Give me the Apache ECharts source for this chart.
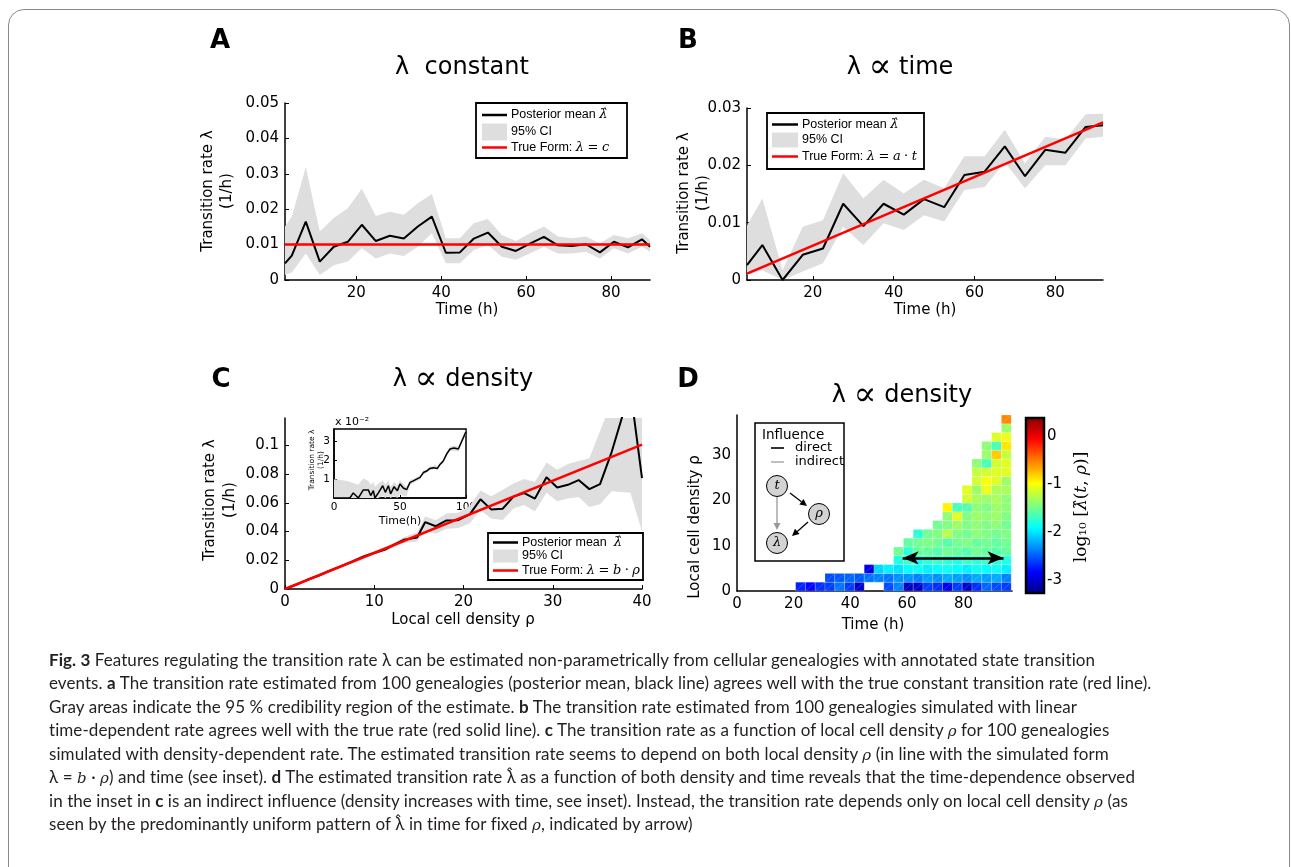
<!DOCTYPE html>
<html>
<head>
<meta charset="utf-8">
<script src="https://cdn.jsdelivr.net/npm/echarts@6/dist/echarts.min.js"></script>
<style>
html,body{margin:0;padding:0;background:#fff;}
#chart{position:absolute;left:0;top:0;width:1291px;height:867px;}
#frame{position:absolute;left:8px;top:9px;width:1280px;height:900px;border:1.5px solid #8a8a8a;border-radius:16px;pointer-events:none;}
#cap{position:absolute;left:49px;top:648px;font-family:Lato,'Open Sans',sans-serif;font-size:17px;letter-spacing:0.07px;color:#231f20;white-space:nowrap;}
#cap div{height:23.45px;line-height:23.45px;}
#cap i{font-family:'DejaVu Serif',serif;font-style:italic;font-size:15px;line-height:0;}
</style>
</head>
<body>
<div id="chart"></div>
<div id="frame"></div>
<div id="cap">
<div><b>Fig. 3</b> Features regulating the transition rate λ can be estimated non-parametrically from cellular genealogies with annotated state transition</div>
<div>events. <b>a</b> The transition rate estimated from 100 genealogies (posterior mean, black line) agrees well with the true constant transition rate (red line).</div>
<div>Gray areas indicate the 95 % credibility region of the estimate. <b>b</b> The transition rate estimated from 100 genealogies simulated with linear</div>
<div>time-dependent rate agrees well with the true rate (red solid line). <b>c</b> The transition rate as a function of local cell density <i>ρ</i> for 100 genealogies</div>
<div>simulated with density-dependent rate. The estimated transition rate seems to depend on both local density <i>ρ</i> (in line with the simulated form</div>
<div>λ = <i>b</i> · <i>ρ</i>) and time (see inset). <b>d</b> The estimated transition rate λ̂ as a function of both density and time reveals that the time-dependence observed</div>
<div>in the inset in <b>c</b> is an indirect influence (density increases with time, see inset). Instead, the transition rate depends only on local cell density <i>ρ</i> (as</div>
<div>seen by the predominantly uniform pattern of λ̂ in time for fixed <i>ρ</i>, indicated by arrow)</div>
</div>
<script>
const F = 'DejaVu Sans', S = 'DejaVu Serif', LS = 'Liberation Sans';

// A: lambda constant
const aTime  = [3.2,4.8,8.1,11.4,14.7,18.0,21.3,24.6,27.9,31.2,34.5,37.8,41.1,44.4,47.7,51.0,54.3,57.6,60.9,64.2,67.5,70.8,74.1,77.4,80.7,84.0,87.3,89.2];
const aMean  = [0.0047,0.0069,0.0165,0.0052,0.0094,0.0108,0.0156,0.011,0.0125,0.0117,0.0151,0.0179,0.0077,0.0078,0.0117,0.0134,0.0094,0.0082,0.0103,0.0122,0.0098,0.0096,0.0101,0.0078,0.0108,0.0092,0.0115,0.0094];
const aUpper = [0.0151,0.0179,0.0319,0.0137,0.0175,0.0203,0.0258,0.0181,0.0193,0.0184,0.0217,0.0243,0.0118,0.0118,0.016,0.0172,0.0127,0.011,0.0132,0.0151,0.0123,0.0118,0.0123,0.0104,0.0127,0.0118,0.0132,0.0113];
const aLower = [0.0014,0.0021,0.0075,0.0014,0.0042,0.0052,0.009,0.0061,0.0075,0.0068,0.0094,0.0132,0.0047,0.0047,0.0085,0.0099,0.0066,0.0057,0.0075,0.0094,0.0075,0.0075,0.008,0.0061,0.009,0.0075,0.0094,0.008];
const aTrueT = [3.2,89.2], aTrue = [0.01,0.01];

// B: lambda ~ time
const bTime  = [3.7,7.5,12.5,17.5,22.5,27.5,32.5,37.5,42.5,47.5,52.5,57.5,62.5,67.5,72.5,77.5,82.5,87.5,91.8];
const bMean  = [0.0026,0.0061,0,0.0044,0.0055,0.0133,0.0094,0.0133,0.0114,0.0141,0.0127,0.0183,0.0189,0.0233,0.0181,0.0227,0.0222,0.0267,0.027];
const bUpper = [0.0095,0.0142,0.0017,0.0093,0.0104,0.0186,0.0142,0.0175,0.0151,0.0175,0.016,0.0216,0.0216,0.0262,0.0203,0.025,0.0245,0.0289,0.029];
const bLower = [0.0009,0.0017,0,0.0015,0.0029,0.0093,0.0061,0.0099,0.0087,0.0113,0.0102,0.0157,0.0162,0.0206,0.016,0.02,0.02,0.0247,0.025];
const bTrueT = [3.7,91.8], bTrue = [0.0011,0.0275];

// C: lambda ~ density
const cRho   = [0,1.3,2.5,3.8,5.0,6.3,7.5,8.8,10.0,11.3,12.5,13.3,14.8,15.7,16.9,18.1,19.4,20.7,21.9,23.1,24.4,25.6,26.8,28.0,29.3,30.5,31.7,32.9,34.1,35.3,36.6,38.7,40.0];
const cMean  = [0,0.0031,0.0064,0.0094,0.0127,0.0159,0.0191,0.0226,0.0251,0.0277,0.0318,0.0342,0.0359,0.0465,0.0437,0.0477,0.0479,0.0519,0.0624,0.0554,0.0559,0.0643,0.0667,0.0629,0.0777,0.0707,0.0725,0.0758,0.0695,0.073,0.0953,0.139,0.0772];
const cUpper = [0,0.0036,0.007,0.0102,0.0135,0.0168,0.0201,0.0236,0.0263,0.029,0.0332,0.0362,0.0395,0.0505,0.0478,0.0525,0.053,0.058,0.0685,0.0645,0.069,0.0735,0.0765,0.0745,0.088,0.083,0.087,0.089,0.091,0.11,0.13,0.16,0.16];
const cLower = [0,0.0026,0.0058,0.0086,0.0118,0.015,0.018,0.0212,0.0238,0.0262,0.0298,0.032,0.033,0.0405,0.0385,0.042,0.0425,0.0455,0.055,0.049,0.048,0.056,0.0585,0.054,0.067,0.061,0.063,0.064,0.057,0.059,0.068,0.067,0.04];
const cTrueRho = [0,40], cTrue = [0,0.1005];

// C inset: rate vs time (units of 1e-2)
const inT     = [0,5,10,12,14.6,18.4,22.2,26,27.8,29.8,31,33.6,36.9,38.9,41.2,42.9,45.5,48,50,52.5,55,57.6,60.1,62.6,65.2,67.7,70.2,72.7,75.3,76.5,78.3,80.3,82.8,85.4,87.9,90.9,94.2,96.7,100];
const inMean  = [0,0,0,0,0.27,0,0.43,0.43,0.13,0.39,0,0.27,0.65,0.3,0.65,0.22,0.6,0.39,0.74,0.53,0.44,0.83,0.91,1.0,1.09,1.35,1.43,1.57,1.6,1.69,1.57,1.78,1.96,2.34,2.6,2.65,2.6,3.0,3.52];
const inUpper = [1.0,0.95,0.9,0.85,0.8,0.7,1.05,0.9,0.7,0.85,0.6,0.75,0.95,0.7,0.95,0.6,0.85,0.65,0.95,0.75,0.6,0.95,1.02,1.1,1.2,1.45,1.53,1.67,1.7,1.79,1.67,1.88,2.06,2.44,2.72,2.78,2.75,3.12,3.62];
const inLower = [0,0,0,0,0,0,0,0,0,0,0,0,0.1,0,0.1,0,0.1,0,0.2,0.1,0.1,0.7,0.8,0.9,0.98,1.25,1.33,1.47,1.5,1.59,1.47,1.68,1.86,2.24,2.48,2.52,2.45,2.88,3.4];

// D: log10 rate over (time, density) bins
const tBinStart = 20.7, tBinWidth = 3.46, rhoBinHeight = 1.94;
const heatRowStart = [0,3,7,10,10,11,12,14,15,15,17,17,18,18,18,19,19,20,21,21];
const heatRows = [
  [-2.7,-2.8,-2.65,-2.6,-2.4,-2.6,-3.0,null,null,-2.55,-2.35,-3.05,-3.0,-2.6,-2.65,-2.85,-2.6,-3.0,-2.65,-2.45,-2.55,-2.6],
  [-2.55,-2.5,-2.45,-2.5,-2.4,-2.35,-2.4,-2.3,-2.3,-2.35,-2.25,-2.3,-2.2,-2.25,-2.3,-2.2,-2.25,-2.2,-2.35],
  [-2.9,-2.05,-1.95,-2.0,-1.9,-1.85,-1.95,-1.9,-1.85,-1.9,-1.95,-1.85,-1.9,-1.85,-1.95],
  [-1.8,-1.7,-1.85,-1.75,-1.7,-1.75,-1.8,-1.7,-1.75,-1.7,-1.75,-1.8],
  [-1.5,-1.75,-1.55,-1.55,-1.6,-1.5,-1.55,-1.6,-1.5,-1.55,-1.6,-1.55],
  [-1.55,-1.5,-1.45,-1.5,-1.6,-1.5,-1.45,-1.55,-1.5,-1.55,-1.5],
  [-1.75,-1.5,-1.45,-1.25,-1.45,-1.5,-1.4,-1.45,-1.5,-1.45],
  [-1.5,-1.45,-1.35,-1.45,-1.4,-1.45,-1.4,-1.5],
  [-1.4,-1.1,-1.45,-1.35,-1.4,-1.35,-1.45],
  [-0.95,-1.65,-1.6,-1.4,-1.45,-1.35,-1.4],
  [-1.15,-1.3,-1.35,-1.3,-1.4],
  [-1.1,-1.35,-1.05,-1.3,-1.3],
  [-1.15,-1.0,-1.1,-1.35],
  [-1.2,-1.15,-1.1,-1.1],
  [-1.4,-1.65,-1.15,-1.1],
  [-1.35,-0.8,-1.2],
  [-1.4,-1.65,-0.9],
  [-1.1,-1.05],
  [-1.35],
  [-0.55]
];
const cbMin = -3.27, cbMax = 0.385, cbTicks = [-3,-2,-1,0];
const dArrowT = [58.5,94.1], dArrowRho = 7.3;

const jet = ['#000080','#0000ff','#0080ff','#00ffff','#80ff80','#ffff00','#ff8000','#ff0000','#800000'];
const GRAY = '#dedede';

const heatData = [];
heatRows.forEach((row, r) => row.forEach((v, k) => {
  if (v !== null) heatData.push([tBinStart + (heatRowStart[r] + k) * tBinWidth, r * rhoBinHeight, v]);
}));

function pts(xs, ys){ return xs.map((x,i)=>[x, ys[i]]); }
function band(g, xs, lo, hi){
  return {type:'custom', xAxisIndex:g, yAxisIndex:g, clip:true, silent:true, z:1,
    data: xs.map((x,i)=>[x, lo[i], hi[i]]),
    renderItem:(p, api)=>{
      if (p.dataIndex !== 0) return null;
      const up = xs.map((x,i)=>api.coord([x, hi[i]]));
      const dn = xs.map((x,i)=>api.coord([x, lo[i]])).reverse();
      return {type:'polygon', shape:{points: up.concat(dn)}, style:{fill:GRAY}};
    }};
}
function line(g, xs, ys, color, w, z){
  return {type:'line', xAxisIndex:g, yAxisIndex:g, data:pts(xs, ys), symbol:'none', silent:true, z,
    lineStyle:{color, width:w}};
}
function ax(g, min, max, ticks, fmt, o){
  return Object.assign({type:'value', gridIndex:g, min, max,
    axisLine:{onZero:false, lineStyle:{color:'#000', width:1.5}},
    axisTick:{inside:true, length:4, customValues:ticks, lineStyle:{color:'#000', width:1}},
    axisLabel:{customValues:ticks, formatter:fmt, color:'#000', fontFamily:F, fontSize:15, margin:6},
    splitLine:{show:false}}, o || {});
}
const f2 = v => v === 0 ? '0' : v.toFixed(2);
const fC = v => v === 0 ? '0' : (Math.abs(v - 0.1) < 1e-9 ? '0.1' : v.toFixed(2));
const fInt = v => String(Math.round(v));

const grid = [
  {left:285, top:103, width:365, height:177},
  {left:747, top:108, width:356, height:172},
  {left:285, top:418, width:357, height:171},
  {left:334, top:429, width:132, height:69, show:true, borderColor:'#000', borderWidth:1.5, backgroundColor:'#fff'},
  {left:737, top:415, width:275, height:176},
  {left:1026, top:418, width:18, height:175}
].map(g => Object.assign({outerBoundsMode:'none', containLabel:false}, g));

const smallLab = {color:'#000', fontFamily:F, fontSize:10.5, margin:4};
const xAxis = [
  ax(0, 3.2, 89.2, [20,40,60,80], fInt),
  ax(1, 3.7, 91.8, [20,40,60,80], fInt),
  ax(2, 0, 40, [0,10,20,30,40], fInt),
  ax(3, 0, 100, [0,50,100], fInt, {axisLabel:Object.assign({customValues:[0,50,100], formatter:fInt}, smallLab), axisTick:{inside:true, length:3, customValues:[0,50,100], lineStyle:{color:'#000'}}}),
  ax(4, 0, 97.1, [0,20,40,60,80], fInt, {axisTick:{show:false}}),
  {type:'value', gridIndex:5, min:0, max:1, show:false}
];
const yAxis = [
  ax(0, 0, 0.05, [0,0.01,0.02,0.03,0.04,0.05], f2),
  ax(1, 0, 0.03, [0,0.01,0.02,0.03], f2),
  ax(2, 0, 0.119, [0,0.02,0.04,0.06,0.08,0.1], fC),
  ax(3, 0, 3.66, [1,2,3], fInt, {axisLabel:Object.assign({customValues:[1,2,3], formatter:fInt}, smallLab), axisTick:{inside:true, length:3, customValues:[1,2,3], lineStyle:{color:'#000'}}}),
  ax(4, 0, 38.8, [0,10,20,30], fInt, {axisTick:{show:false}}),
  {type:'value', gridIndex:5, min:cbMin, max:cbMax, position:'right',
    axisLine:{show:false}, splitLine:{show:false},
    axisTick:{show:true, inside:false, length:4, customValues:cbTicks, lineStyle:{color:'#000', width:1.5}},
    axisLabel:{customValues:cbTicks, formatter:fInt, color:'#000', fontFamily:F, fontSize:15, margin:3}}
];

const series = [
  band(0, aTime, aLower, aUpper), line(0, aTime, aMean, '#000', 2, 3), line(0, aTrueT, aTrue, '#ff0000', 2.5, 4),
  band(1, bTime, bLower, bUpper), line(1, bTime, bMean, '#000', 2, 3), line(1, bTrueT, bTrue, '#ff0000', 2.5, 4),
  band(2, cRho, cLower, cUpper), line(2, cRho, cMean, '#000', 2, 3), line(2, cTrueRho, cTrue, '#ff0000', 2.5, 4),
  band(3, inT, inLower, inUpper), line(3, inT, inMean, '#000', 1.5, 3)
];
const heatIndex = series.length;
series.push({type:'custom', xAxisIndex:4, yAxisIndex:4, silent:true, z:2, data:heatData,
  renderItem:(p, api)=>{
    const t0 = api.value(0), r0 = api.value(1);
    const a = api.coord([t0, r0 + rhoBinHeight]), b = api.coord([t0 + tBinWidth, r0]);
    return {type:'group', children:[
      {type:'rect', shape:{x:a[0], y:a[1], width:b[0]-a[0], height:b[1]-a[1]},
        style:{fill:api.visual('color'), stroke:'rgba(255,255,255,0.35)', lineWidth:0.6}},
      {type:'line', shape:{x1:a[0], y1:b[1], x2:b[0], y2:a[1]}, style:{stroke:'rgba(255,255,255,0.3)', lineWidth:0.6}}
    ]};
  }});
series.push({type:'line', xAxisIndex:4, yAxisIndex:4, data:[[dArrowT[0], dArrowRho]], symbol:'none', silent:true, z:5,
  lineStyle:{width:0},
  markLine:{silent:true, symbol:['arrow','arrow'], symbolSize:[10,16], label:{show:false}, animation:false,
    lineStyle:{color:'#000', width:2.5, type:'solid'},
    itemStyle:{color:'#000'},
    data:[[{coord:[dArrowT[0], dArrowRho]}, {coord:[dArrowT[1], dArrowRho]}]]}});
series.push({type:'custom', xAxisIndex:5, yAxisIndex:5, silent:true, z:3, data:[[0]],
  renderItem:(p, api)=>{
    const a = api.coord([0, cbMax]), b = api.coord([1, cbMin]);
    return {type:'rect', shape:{x:a[0], y:a[1], width:b[0]-a[0], height:b[1]-a[1]},
      style:{stroke:'#000', lineWidth:2.5,
        fill:{type:'linear', x:0, y:0, x2:0, y2:1, colorStops: jet.slice().reverse().map((c,i,arr)=>({offset:i/(arr.length-1), color:c}))}}};
  }});

// text and annotation helpers
function T(x, y, text, o){
  o = o || {};
  return {type:'text', x, y, rotation:o.rot || 0, z:o.z || 100, silent:true,
    style:Object.assign({text, fill:'#000', fontFamily:F, fontSize:15, align:'center', verticalAlign:'middle'}, o.s || {})};
}
const mathRich = sz => ({m:{fontFamily:S, fontStyle:'italic', fontSize:sz, fill:'#000'}, r:{fontFamily:S, fontSize:sz, fill:'#000'}});
function legendBox(x, y, w, h, rows, sx0, sx1, tx, labels, patchH){
  const el = [
    {type:'rect', z:100, shape:{x, y, width:w, height:h}, style:{fill:'#fff', stroke:'#000', lineWidth:1.8}},
    {type:'line', z:101, shape:{x1:sx0, y1:rows[0], x2:sx1, y2:rows[0]}, style:{stroke:'#000', lineWidth:2.5}},
    {type:'rect', z:101, shape:{x:sx0, y:rows[1]-patchH/2, width:sx1-sx0, height:patchH}, style:{fill:GRAY}},
    {type:'line', z:101, shape:{x1:sx0, y1:rows[2], x2:sx1, y2:rows[2]}, style:{stroke:'#ff0000', lineWidth:2.5}}
  ];
  labels.forEach((t, i) => el.push(T(tx, rows[i], t, {z:102, s:{align:'left', fontFamily:LS, fontSize:12.5, rich:mathRich(13)}})));
  return el;
}
function arrow(x1, y1, x2, y2, color){
  const a = Math.atan2(y2-y1, x2-x1), L = 7, W = 3.5;
  const bx = x2 - L*Math.cos(a), by = y2 - L*Math.sin(a);
  return [
    {type:'line', z:101, shape:{x1, y1, x2:bx, y2:by}, style:{stroke:color, lineWidth:1.3}},
    {type:'polygon', z:101, shape:{points:[[x2,y2],[bx+W*Math.sin(a), by-W*Math.cos(a)],[bx-W*Math.sin(a), by+W*Math.cos(a)]]}, style:{fill:color}}
  ];
}
function node(x, y, label){
  return [
    {type:'circle', z:101, shape:{cx:x, cy:y, r:10.5}, style:{fill:'#d3d3d3', stroke:'#000', lineWidth:1}},
    T(x, y, label, {z:103, s:{fontFamily:S, fontStyle:'italic', fontSize:13}})
  ];
}

const title = {fontSize:24, rich:{p:{fontFamily:S, fontSize:34, fill:'#000'}}};
const letter = {fontSize:26, fontWeight:'bold'};
const graphic = [
  T(220, 41, 'A', {s:letter}), T(688, 41, 'B', {s:letter}), T(221, 380, 'C', {s:letter}), T(688, 380, 'D', {s:letter}),
  T(462, 68, 'λ  constant', {s:title}), T(900, 68, 'λ {p|∝} time', {s:title}),
  T(463, 380, 'λ {p|∝} density', {s:title}), T(902, 396, 'λ {p|∝} density', {s:title}),
  T(467, 310, 'Time (h)'), T(925, 310, 'Time (h)'), T(463, 620, 'Local cell density ρ'), T(873, 625, 'Time (h)'),
  T(217.5, 191, 'Transition rate λ\n(1/h)', {rot:Math.PI/2, s:{lineHeight:19}}),
  T(693.5, 193, 'Transition rate λ\n(1/h)', {rot:Math.PI/2, s:{lineHeight:19}}),
  T(220, 500, 'Transition rate λ\n(1/h)', {rot:Math.PI/2, s:{lineHeight:20}}),
  T(695, 527, 'Local cell density ρ', {rot:Math.PI/2}),
  T(400, 521, 'Time(h)', {s:{fontSize:11}}),
  T(317, 460, 'Transition rate λ\n(1/h)', {rot:Math.PI/2, s:{fontSize:7.5, lineHeight:9}}),
  T(335, 422, 'x 10⁻²', {s:{align:'left', fontSize:11}}),
  T(1082, 507, '{r|log₁₀ [}{m|λ̂}{r|(}{m|t}{r|, }{m|ρ}{r|)]}', {rot:Math.PI/2, s:{rich:mathRich(17)}}),
  ...legendBox(476, 103, 151, 55, [115,132,147.5], 482, 507, 511, ['Posterior mean {m|λ̂}', '95% CI', 'True Form: {m|λ} {r|=} {m|c}'], 17),
  ...legendBox(767, 113, 157, 56, [124.5,140,156.5], 772, 798, 802, ['Posterior mean {m|λ̂}', '95% CI', 'True Form: {m|λ} {r|=} {m|a} {r|·} {m|t}'], 15),
  ...legendBox(488, 533, 155, 47, [542.5,556,570.5], 493, 518, 522, ['Posterior mean  {m|λ̂}', '95% CI', 'True Form: {m|λ} {r|=} {m|b} {r|·} {m|ρ}'], 13),
  {type:'rect', z:100, shape:{x:755, y:423, width:89, height:138}, style:{fill:'#fff', stroke:'#000', lineWidth:1.5}},
  T(762, 435, 'Influence', {z:102, s:{align:'left', fontSize:13.5}}),
  {type:'line', z:101, shape:{x1:771, y1:448, x2:784, y2:448}, style:{stroke:'#333', lineWidth:2}},
  T(795, 448, 'direct', {z:102, s:{align:'left', fontSize:13}}),
  {type:'line', z:101, shape:{x1:771, y1:462, x2:784, y2:462}, style:{stroke:'#aaa', lineWidth:1.5}},
  T(795, 462, 'indirect', {z:102, s:{align:'left', fontSize:13}}),
  ...arrow(790, 493, 807, 506, '#000'),
  ...arrow(808, 522, 792, 536, '#000'),
  ...arrow(777, 497, 777, 530, '#999'),
  ...node(777, 486, 't'), ...node(819, 514, 'ρ'), ...node(777, 543, 'λ')
];

const chart = echarts.init(document.getElementById('chart'));
chart.setOption({
  animation:false,
  backgroundColor:'#fff',
  grid, xAxis, yAxis, series, graphic,
  visualMap:{type:'continuous', show:false, seriesIndex:heatIndex, dimension:2, min:cbMin, max:cbMax, inRange:{color:jet}}
});
window.addEventListener('resize', () => chart.resize());
</script>
</body>
</html>
